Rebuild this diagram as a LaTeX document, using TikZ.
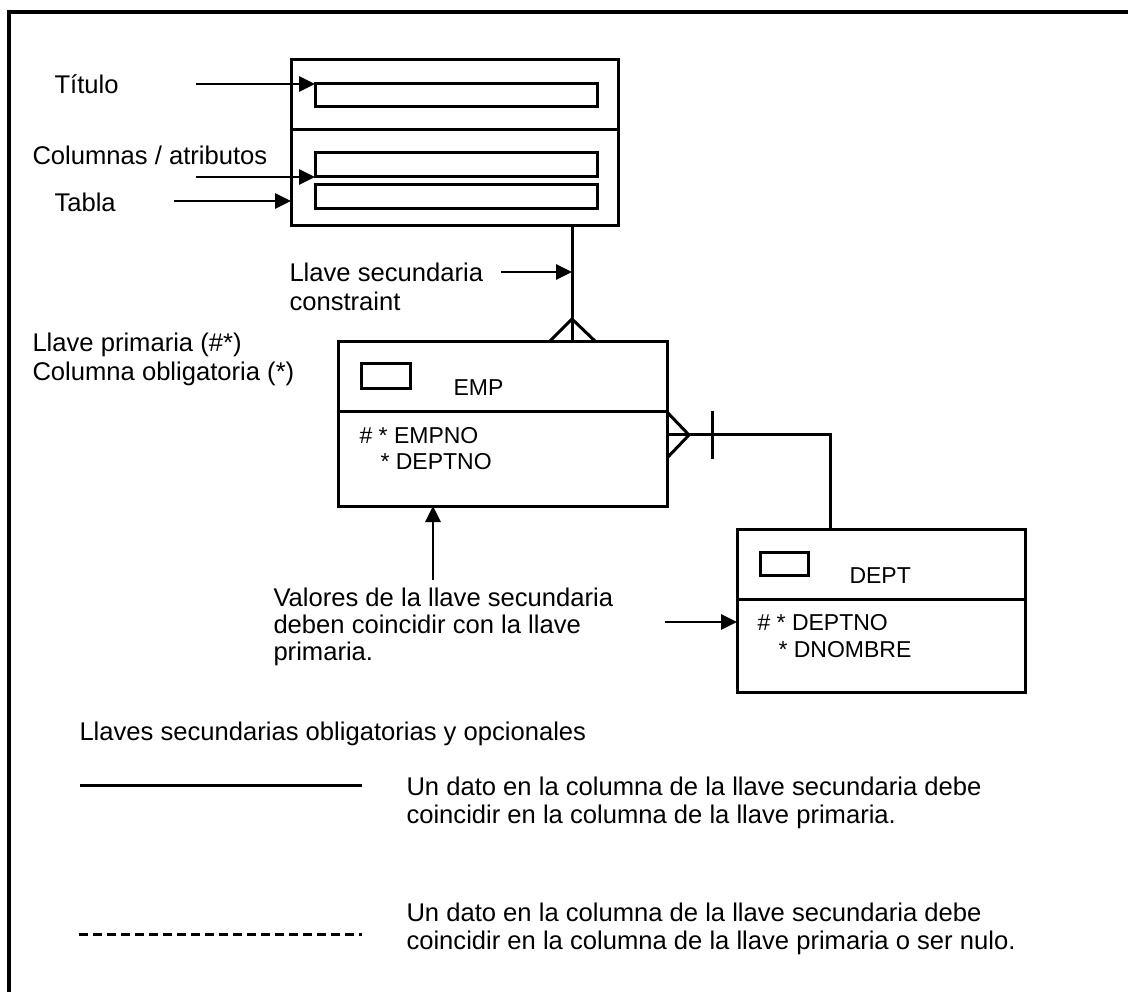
\documentclass[tikz,border=0pt]{standalone}
\usepackage{fontspec}
\setmainfont{Liberation Sans}
\usetikzlibrary{arrows.meta}

\begin{document}
\begin{tikzpicture}[x=1pt,y=-1pt,
  line width=3pt,
  tbox/.style={draw, line width=3pt, inner sep=0pt, outer sep=0pt, anchor=north west},
  lbl/.style={font=\fontsize{25.6}{29}\selectfont, inner sep=0pt, anchor=base west},
  fld/.style={font=\fontsize{23}{26}\selectfont, inner sep=0pt, anchor=base west},
  arr/.style={-{Triangle[length=16pt,width=15pt]}, line width=2.8pt},
  link/.style={line width=3pt}
]
\useasboundingbox (0,0) rectangle (1128,992);

% outer frame (open to the right and bottom)
\draw[line width=3.4pt] (1128,12) -- (9,12) -- (9,992);

% ---------- generic table symbol ----------
\node[tbox, minimum width=327pt, minimum height=70pt] (ttl) at (291,60) {};
\node[tbox, minimum width=327pt, minimum height=96pt] (cols) at (291,130) {};
\node[tbox, minimum width=282pt, minimum height=23pt] (r1) at (315,84) {};
\node[tbox, minimum width=282pt, minimum height=24pt] (r2) at (315,153) {};
\node[tbox, minimum width=282pt, minimum height=24pt] (r3) at (315,185) {};

\node[lbl] (tTitulo) at (53,94) {Título};
\node[lbl] (tCols) at (31,165) {Columnas / atributos};
\node[lbl] (tTabla) at (53,212) {Tabla};

\coordinate (aTit) at (196,84);
\coordinate (aCol) at (196,177);
\coordinate (aTab) at (174,201);
\draw[arr] (aTit) -- (r1.north west);
\draw[arr] (aCol) -- (r2.south west);
\draw[arr] (aTab) -- (aTab -| cols.west);

% ---------- EMP entity ----------
\node[tbox, minimum width=329pt, minimum height=70pt] (emph) at (338,342) {};
\node[tbox, minimum width=329pt, minimum height=94pt] (empb) at (338,412) {};
\node[tbox, minimum width=49pt, minimum height=25pt] (empk) at (361,364) {};
\node[fld] (empName) at (452,396) {EMP};
\node[fld] (empKey) at (358,443) {\# * EMPNO};
\node[fld] (empFk) at (379,469) {* DEPTNO};

% ---------- DEPT entity ----------
\node[tbox, minimum width=288pt, minimum height=70pt] (depth) at (737,529) {};
\node[tbox, minimum width=288pt, minimum height=93pt] (deptb) at (737,599) {};
\node[tbox, minimum width=48pt, minimum height=23pt] (deptk) at (760,552) {};
\node[fld] (deptName) at (848,583) {DEPT};
\node[fld] (deptKey) at (756,630) {\# * DEPTNO};
\node[fld] (deptAttr) at (777,657) {* DNOMBRE};

% ---------- relationship table -> EMP ----------
\coordinate (fkx) at (572,0);
\draw[link] (cols.south -| fkx) -- (emph.north -| fkx);
\draw[link] ([xshift=-23pt]emph.north -| fkx) -- ([yshift=23pt]emph.north -| fkx)
            -- ([xshift=24pt]emph.north -| fkx);

\node[lbl] (tFk1) at (288,282) {Llave secundaria};
\node[lbl] (tFk2) at (288,311) {constraint};
\coordinate (aFk) at (501,272);
\draw[arr] (aFk) -- (aFk -| fkx);

% ---------- relationship EMP -> DEPT ----------
\coordinate (rely) at (0,435);
\coordinate (relx) at (830,0);
\draw[link] (rely -| empb.east) -- (rely -| relx) -- (depth.north -| relx);
\draw[link] ([yshift=23pt]rely -| empb.east) -- ([xshift=22pt]rely -| empb.east)
            -- ([yshift=-23pt]rely -| empb.east);
\draw[link] ([xshift=45pt,yshift=24pt]rely -| empb.east)
         -- ([xshift=45pt,yshift=-24pt]rely -| empb.east);

% ---------- annotations ----------
\node[lbl] (tPk) at (31,352) {Llave primaria (\#*)};
\node[lbl] (tMand) at (31,381) {Columna obligatoria (*)};

\node[lbl] (tVal1) at (272,606) {Valores de la llave secundaria};
\node[lbl] (tVal2) at (272,633) {deben coincidir con la llave};
\node[lbl] (tVal3) at (272,660) {primaria.};
\coordinate (aUp) at (433,580);
\draw[arr] (aUp) -- (aUp |- empb.south);
\coordinate (aDept) at (665,622);
\draw[arr] (aDept) -- (aDept -| deptb.west);

% ---------- legend ----------
\node[lbl] (tLeg) at (78,740) {Llaves secundarias obligatorias y opcionales};
\coordinate (s1) at (80,785);
\coordinate (s2) at (362,785);
\draw[line width=3pt] (s1) -- (s2);
\node[lbl] (tReq1) at (405,795) {Un dato en la columna de la llave secundaria debe};
\node[lbl] (tReq2) at (405,823) {coincidir en la columna de la llave primaria.};
\coordinate (d1) at (79,934);
\coordinate (d2) at (362,934);
\draw[line width=3pt, dash pattern=on 9pt off 5pt] (d1) -- (d2);
\node[lbl] (tOpt1) at (405,921) {Un dato en la columna de la llave secundaria debe};
\node[lbl] (tOpt2) at (405,949) {coincidir en la columna de la llave primaria o ser nulo.};
\end{tikzpicture}
\end{document}
